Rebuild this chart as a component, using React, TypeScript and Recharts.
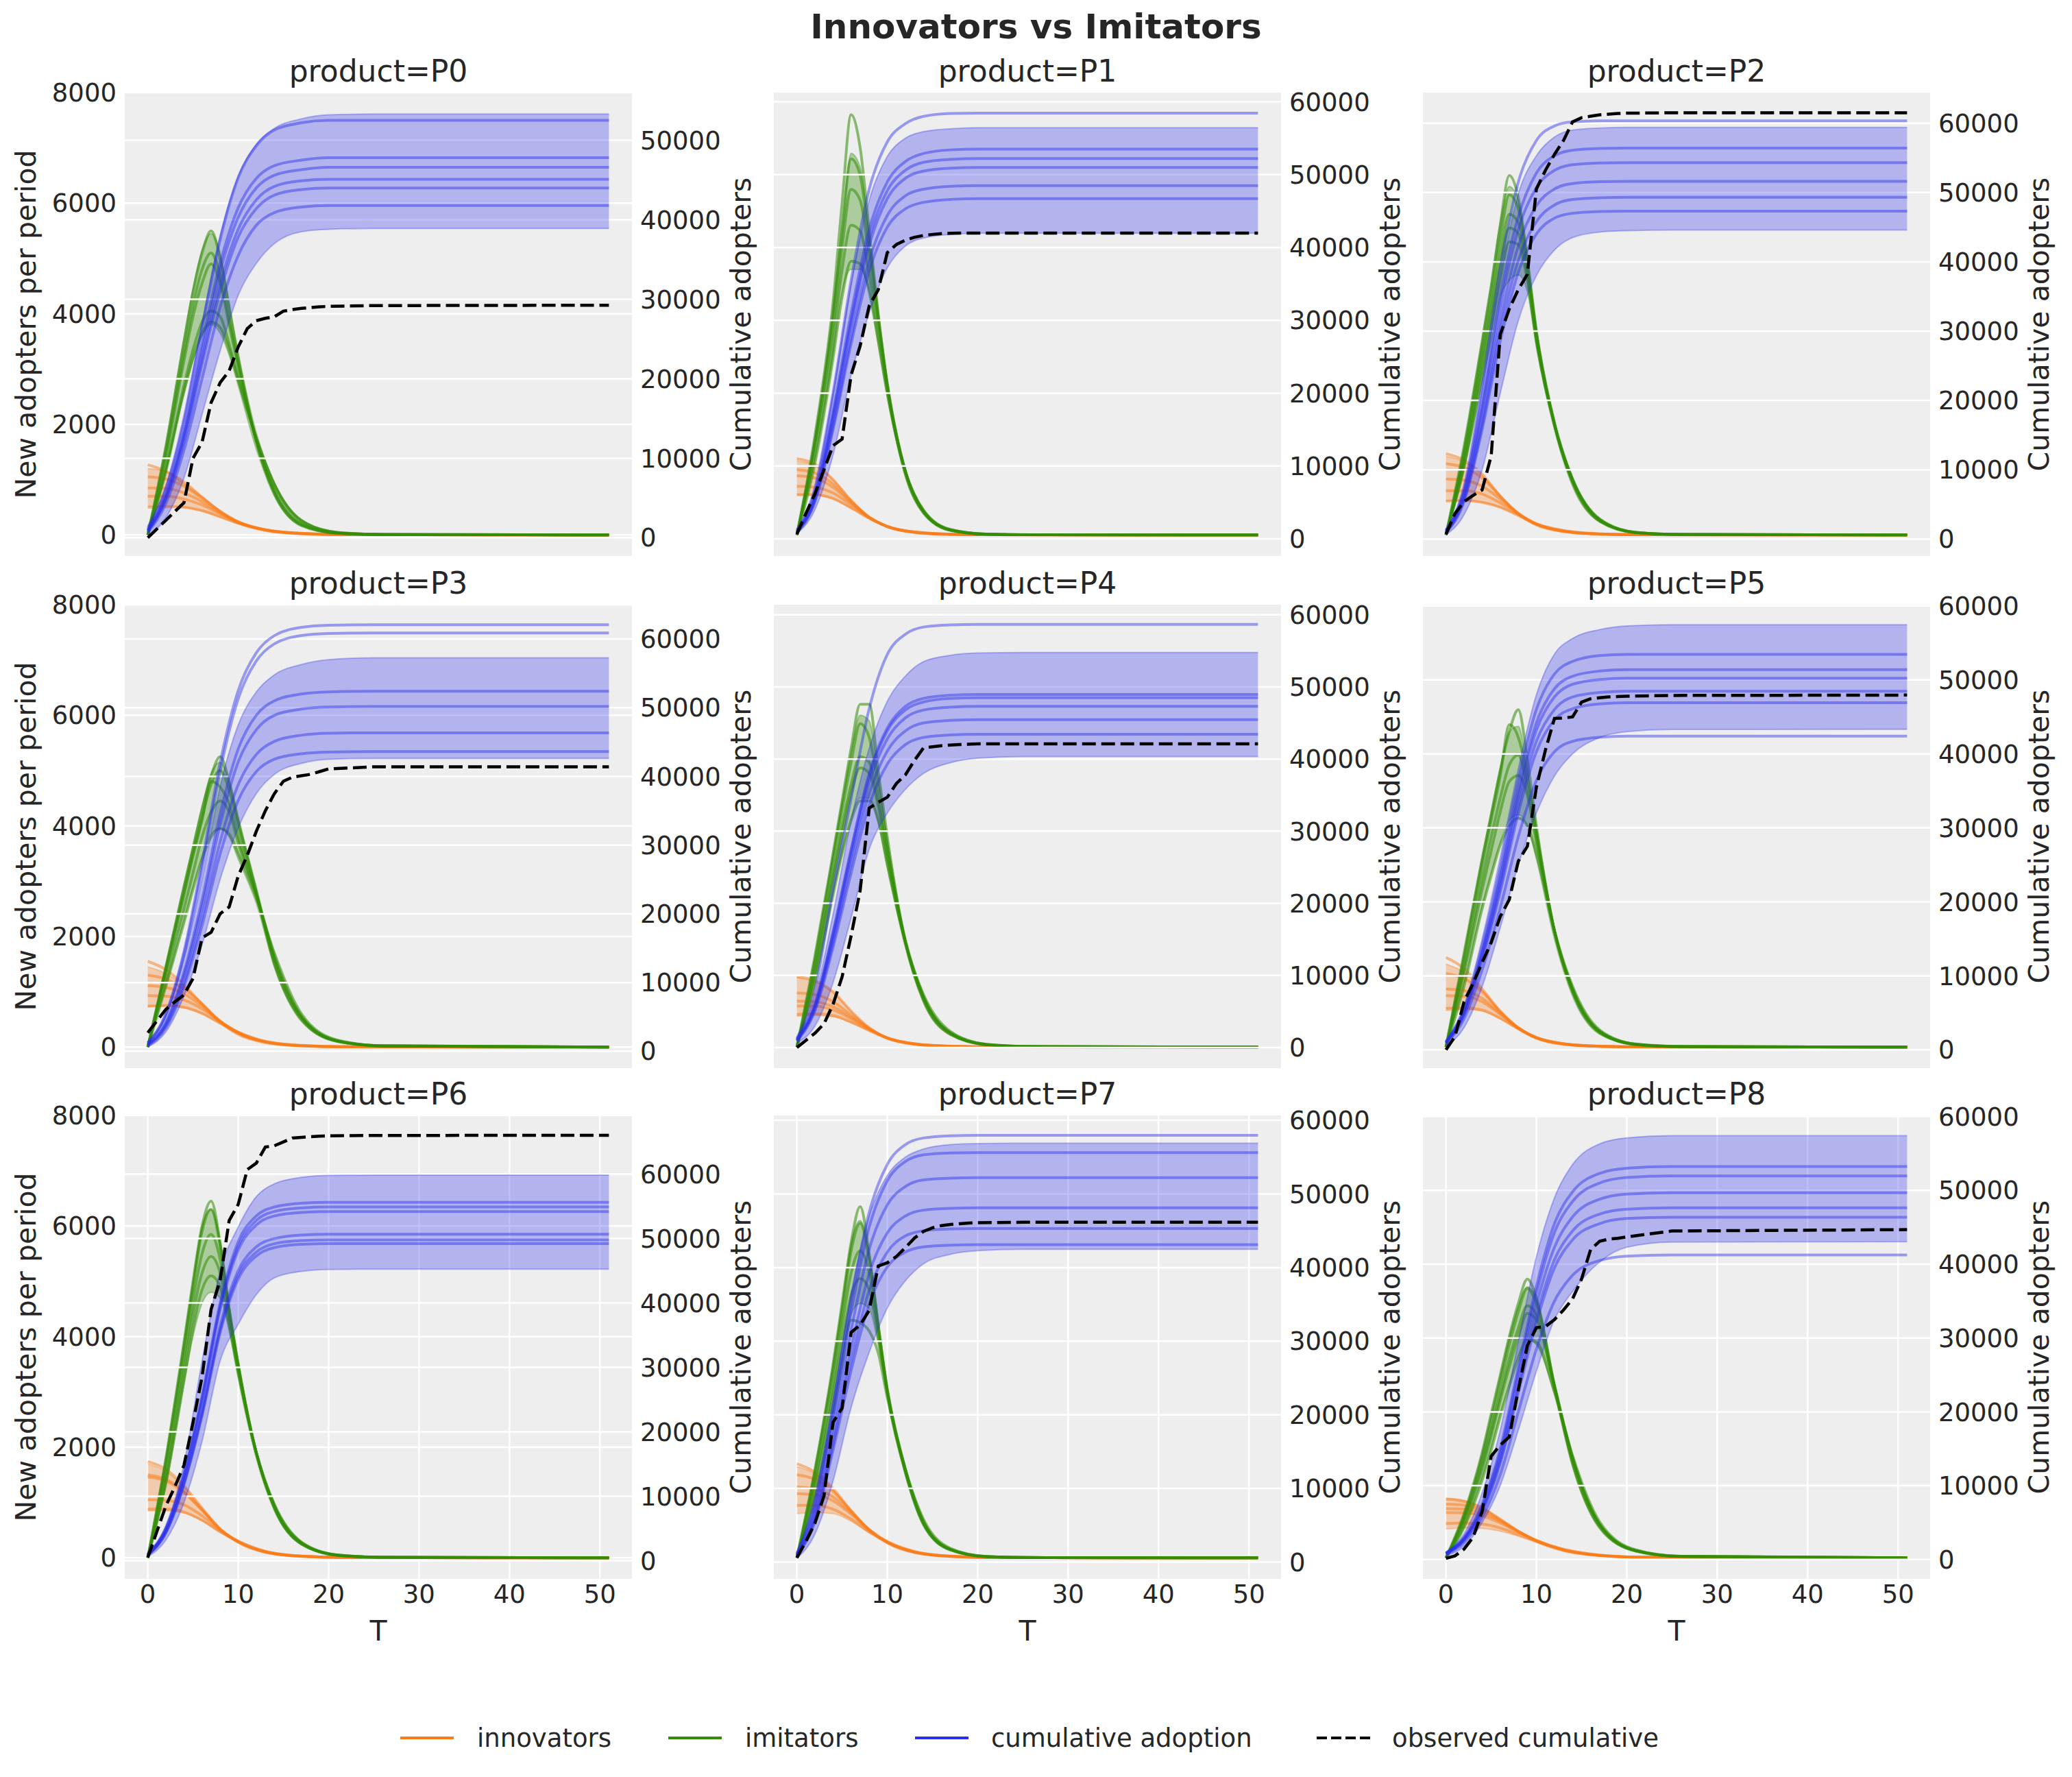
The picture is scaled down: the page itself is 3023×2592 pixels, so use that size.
import React from 'react';
import { ComposedChart, Line, Area, XAxis, YAxis, CartesianGrid } from 'recharts';

const T_INNOV = [0, 2, 4, 6, 8, 10, 13, 17, 22, 51];
const T_IMIT = [0, 2, 4, 5, 6, 7, 8, 9, 10, 12, 14, 17, 21, 26, 51];
const T_CUM = [0, 2, 4, 6, 8, 10, 12, 14, 17, 20, 25, 51];
const T_OBS = [0, 1, 2, 3, 4, 5, 6, 7, 8, 9, 10, 11, 12, 13, 14, 15, 16, 17, 18, 19, 20, 25, 51];

const PRODUCTS = ['P0', 'P1', 'P2', 'P3', 'P4', 'P5', 'P6', 'P7', 'P8'];
const X_TICKS = [0, 10, 20, 30, 40, 50];
const LEFT_TICKS = [0, 2000, 4000, 6000, 8000];
const RIGHT_DOMAINS = [
  [-2300, 56000], [-2350, 61270], [-2440, 64420],
  [-2460, 65000], [-2850, 61400], [-2475, 60170],
  [-2830, 69110], [-2280, 60660], [-2620, 60150],
];
const TICKS_50K = [0, 10000, 20000, 30000, 40000, 50000];
const TICKS_60K = [0, 10000, 20000, 30000, 40000, 50000, 60000];
const RIGHT_TICKS = [TICKS_50K, TICKS_60K, TICKS_60K, TICKS_60K, TICKS_60K, TICKS_60K, TICKS_60K, TICKS_60K, TICKS_60K];

// innovators, sample lines per product (values at T_INNOV)
const INNOV_LINES = [
  [[1270, 1150, 930, 680, 420, 220, 80, 20, 5, 0], [1050, 1010, 880, 660, 430, 240, 90, 25, 5, 0], [850, 840, 760, 600, 400, 230, 90, 25, 5, 0], [700, 700, 650, 540, 380, 230, 95, 28, 6, 0], [500, 510, 500, 440, 330, 210, 95, 30, 7, 0]],
  [[1380, 1280, 1000, 620, 320, 150, 45, 10, 2, 0], [1180, 1120, 920, 600, 320, 150, 48, 11, 2, 0], [1070, 1030, 860, 580, 320, 150, 50, 12, 2, 0], [880, 860, 760, 540, 310, 155, 52, 13, 3, 0], [730, 730, 660, 490, 300, 155, 55, 14, 3, 0]],
  [[1470, 1350, 1100, 700, 380, 180, 60, 14, 3, 0], [1290, 1220, 1030, 700, 390, 190, 65, 15, 3, 0], [1010, 990, 880, 650, 390, 200, 70, 17, 3, 0], [800, 800, 740, 580, 380, 200, 75, 18, 4, 0], [610, 620, 590, 500, 350, 200, 80, 20, 4, 0]],
  [[1550, 1400, 1120, 780, 450, 230, 80, 20, 4, 0], [1300, 1230, 1050, 780, 470, 250, 90, 23, 5, 0], [1110, 1080, 960, 740, 470, 260, 95, 25, 5, 0], [930, 920, 850, 690, 460, 270, 100, 28, 6, 0], [740, 750, 720, 610, 430, 270, 105, 30, 6, 0]],
  [[1270, 1200, 1000, 650, 350, 160, 50, 12, 2, 0], [980, 950, 820, 580, 340, 165, 55, 13, 2, 0], [830, 820, 730, 540, 330, 165, 57, 14, 3, 0], [740, 740, 670, 510, 320, 165, 58, 15, 3, 0], [590, 600, 570, 450, 300, 160, 60, 16, 3, 0]],
  [[1620, 1420, 1050, 650, 340, 160, 50, 12, 2, 0], [1330, 1240, 1000, 640, 350, 165, 55, 13, 2, 0], [1050, 1020, 880, 610, 350, 170, 58, 14, 3, 0], [930, 920, 820, 590, 345, 172, 60, 15, 3, 0], [700, 710, 670, 520, 330, 172, 62, 16, 3, 0]],
  [[1740, 1600, 1300, 900, 520, 280, 100, 25, 5, 0], [1500, 1420, 1200, 870, 520, 290, 105, 27, 5, 0], [1460, 1390, 1180, 860, 515, 290, 105, 27, 5, 0], [1050, 1040, 960, 760, 500, 300, 115, 30, 6, 0], [880, 880, 830, 680, 470, 300, 120, 32, 6, 0]],
  [[1700, 1550, 1250, 850, 500, 270, 95, 24, 5, 0], [1500, 1420, 1200, 850, 510, 280, 100, 25, 5, 0], [1280, 1250, 1100, 820, 510, 285, 105, 27, 5, 0], [1160, 1140, 1030, 790, 500, 290, 110, 28, 6, 0], [950, 950, 880, 700, 470, 290, 115, 30, 6, 0]],
  [[1060, 1020, 900, 700, 480, 300, 130, 40, 8, 0], [970, 950, 860, 680, 480, 310, 140, 42, 9, 0], [890, 880, 810, 660, 475, 315, 145, 45, 9, 0], [820, 815, 760, 630, 465, 315, 150, 47, 10, 0], [620, 630, 610, 540, 420, 300, 155, 50, 11, 0]],
];
const INNOV_BAND_HI = [
  [1200, 1150, 980, 700, 440, 250, 100, 30, 8, 0], [1340, 1250, 1000, 640, 330, 155, 50, 12, 2, 0], [1420, 1320, 1080, 710, 395, 200, 75, 18, 4, 0],
  [1450, 1330, 1100, 790, 475, 270, 100, 28, 6, 0], [1260, 1180, 990, 640, 345, 165, 58, 15, 3, 0], [1500, 1350, 1030, 650, 350, 172, 62, 16, 3, 0],
  [1700, 1560, 1280, 890, 520, 300, 118, 31, 6, 0], [1650, 1520, 1230, 850, 510, 290, 113, 29, 6, 0], [1080, 1040, 920, 700, 485, 315, 150, 48, 10, 0],
];
const INNOV_BAND_LO = [
  [520, 520, 500, 430, 320, 200, 80, 20, 4, 0], [720, 720, 650, 480, 300, 145, 45, 10, 2, 0], [620, 620, 590, 500, 350, 185, 60, 14, 3, 0],
  [730, 740, 710, 600, 425, 230, 80, 20, 4, 0], [560, 570, 550, 440, 290, 150, 48, 11, 2, 0], [660, 680, 650, 510, 320, 160, 50, 12, 2, 0],
  [850, 850, 810, 670, 460, 275, 98, 24, 5, 0], [800, 820, 800, 660, 450, 265, 95, 23, 5, 0], [520, 540, 530, 480, 390, 280, 130, 40, 8, 0],
];

// imitators, sample lines per product (values at T_IMIT)
const IMIT_LINES = [
  [[0, 1600, 3500, 4400, 5100, 5500, 5000, 4100, 3200, 1700, 750, 170, 30, 6, 0], [0, 1500, 3300, 4150, 4800, 5100, 4700, 3900, 3100, 1700, 780, 190, 32, 6, 0], [0, 1400, 3150, 3950, 4550, 4900, 4550, 3800, 3050, 1700, 800, 200, 35, 7, 0], [0, 1200, 2700, 3350, 3850, 4050, 3950, 3450, 2850, 1750, 900, 250, 45, 9, 0], [0, 1150, 2600, 3200, 3650, 3850, 3750, 3350, 2800, 1750, 920, 260, 48, 10, 0]],
  [[0, 1800, 4200, 6000, 7600, 7000, 5500, 4000, 2700, 1100, 400, 80, 12, 2, 0], [0, 1700, 4000, 5500, 6800, 6500, 5300, 3950, 2750, 1150, 420, 85, 13, 3, 0], [0, 1650, 3800, 5200, 6250, 6050, 5050, 3850, 2700, 1150, 430, 90, 14, 3, 0], [0, 1500, 3500, 4800, 5600, 5500, 4700, 3700, 2650, 1150, 440, 95, 15, 3, 0], [0, 1300, 3200, 4300, 4950, 4900, 4400, 3500, 2550, 1150, 450, 100, 16, 3, 0]],
  [[0, 1600, 3500, 4500, 5600, 6500, 6100, 5000, 3700, 2000, 950, 250, 40, 8, 0], [0, 1500, 3350, 4300, 5350, 6150, 5900, 4900, 3650, 2000, 970, 260, 42, 8, 0], [0, 1400, 3200, 4100, 5050, 5800, 5650, 4800, 3600, 2000, 990, 270, 44, 9, 0], [0, 1300, 3050, 3950, 4850, 5550, 5450, 4700, 3550, 2000, 1000, 280, 46, 9, 0], [0, 1250, 2900, 3750, 4600, 5300, 5250, 4600, 3500, 2000, 1010, 290, 48, 10, 0]],
  [[0, 1450, 2900, 3600, 4300, 4900, 5250, 4800, 4100, 2800, 1500, 500, 100, 20, 0], [0, 1400, 2800, 3500, 4150, 4750, 5000, 4650, 4000, 2800, 1550, 520, 105, 21, 0], [0, 1400, 2750, 3450, 4100, 4800, 4700, 4400, 3800, 2750, 1600, 540, 110, 22, 0], [0, 1250, 2500, 3150, 3800, 4250, 4450, 4250, 3700, 2750, 1650, 560, 115, 23, 0], [0, 1100, 2250, 2850, 3400, 3800, 3950, 3850, 3500, 2700, 1700, 600, 125, 25, 0]],
  [[0, 1650, 3500, 4450, 5400, 6200, 6200, 5000, 3800, 1900, 850, 230, 40, 8, 0], [0, 1550, 3400, 4300, 5150, 5850, 5600, 4700, 3650, 1900, 870, 240, 42, 8, 0], [0, 1400, 3150, 4000, 4750, 5250, 5150, 4450, 3500, 1900, 900, 250, 45, 9, 0], [0, 1350, 3050, 3850, 4600, 5050, 4950, 4350, 3450, 1900, 910, 260, 47, 9, 0], [0, 1200, 2750, 3500, 4100, 4450, 4450, 4100, 3300, 1900, 950, 280, 50, 10, 0]],
  [[0, 1700, 3400, 4200, 5000, 5700, 6100, 5200, 4000, 2100, 1000, 260, 45, 9, 0], [0, 1600, 3300, 4100, 4900, 5830, 5600, 4900, 3900, 2100, 1020, 270, 47, 9, 0], [0, 1450, 3050, 3800, 4500, 5100, 5280, 4700, 3800, 2100, 1040, 280, 49, 10, 0], [0, 1350, 2850, 3550, 4250, 4800, 4910, 4550, 3700, 2100, 1060, 290, 51, 10, 0], [0, 1100, 2500, 3100, 3650, 4000, 4140, 4000, 3500, 2100, 1100, 310, 55, 11, 0]],
  [[0, 1800, 3900, 5000, 6000, 6450, 5700, 4500, 3500, 1900, 900, 250, 45, 9, 0], [0, 1750, 3800, 4900, 5900, 6300, 5650, 4500, 3500, 1900, 910, 255, 46, 9, 0], [0, 1600, 3600, 4650, 5500, 5850, 5400, 4400, 3450, 1900, 930, 265, 48, 10, 0], [0, 1450, 3400, 4400, 5150, 5450, 5150, 4300, 3400, 1900, 950, 275, 50, 10, 0], [0, 1350, 3200, 4150, 4850, 5100, 4900, 4200, 3350, 1900, 970, 285, 52, 10, 0]],
  [[0, 1600, 3500, 4600, 5700, 6350, 5500, 4200, 3000, 1550, 600, 140, 20, 4, 0], [0, 1550, 3400, 4450, 5550, 6050, 5400, 4200, 3050, 1550, 620, 145, 21, 4, 0], [0, 1400, 3150, 4200, 5150, 5550, 5150, 4100, 3050, 1600, 640, 150, 22, 4, 0], [0, 1300, 2950, 3900, 4750, 5050, 4850, 4000, 3000, 1600, 660, 155, 23, 5, 0], [0, 1100, 2600, 3500, 4300, 4250, 4100, 3700, 2900, 1600, 700, 170, 25, 5, 0]],
  [[0, 800, 1900, 2600, 3300, 4000, 4600, 5040, 4700, 3100, 1700, 560, 120, 24, 0], [0, 750, 1800, 2450, 3150, 3850, 4450, 4870, 4600, 3100, 1750, 580, 125, 25, 0], [0, 700, 1700, 2300, 2950, 3600, 4150, 4560, 4400, 3100, 1800, 600, 130, 26, 0], [0, 650, 1600, 2200, 2850, 3450, 4000, 4420, 4300, 3100, 1820, 610, 135, 27, 0], [0, 550, 1400, 1950, 2550, 3100, 3600, 3950, 3900, 3000, 1850, 650, 145, 29, 0]],
];
const IMIT_BAND_HI = [
  [0, 1650, 3550, 4450, 5150, 5450, 5100, 4200, 3300, 1850, 950, 280, 50, 10, 0], [0, 1750, 4050, 5600, 6900, 6650, 5400, 4000, 2800, 1200, 450, 95, 15, 3, 0], [0, 1600, 3550, 4550, 5650, 6300, 6050, 5000, 3750, 2100, 1050, 290, 50, 10, 0],
  [0, 1500, 2950, 3650, 4350, 4950, 5150, 4800, 4150, 2900, 1650, 560, 115, 23, 0], [0, 1650, 3500, 4450, 5350, 6000, 5900, 4900, 3750, 2000, 950, 260, 45, 9, 0], [0, 1700, 3450, 4250, 5050, 5700, 5800, 5000, 3950, 2150, 1080, 290, 50, 10, 0],
  [0, 1800, 3900, 5000, 6000, 6300, 5700, 4550, 3550, 1950, 970, 280, 50, 10, 0], [0, 1600, 3500, 4600, 5700, 6100, 5500, 4300, 3100, 1650, 680, 160, 23, 5, 0], [0, 800, 1900, 2600, 3300, 4000, 4550, 4900, 4700, 3200, 1850, 630, 135, 27, 0],
];
const IMIT_BAND_LO = [
  [0, 1150, 2550, 3150, 3600, 3800, 3650, 3250, 2700, 1550, 700, 160, 25, 5, 0], [0, 1350, 3250, 4400, 4800, 4800, 4400, 3450, 2500, 1050, 380, 70, 10, 2, 0], [0, 1150, 2750, 3500, 4300, 4600, 4700, 4400, 3400, 1900, 880, 230, 35, 7, 0],
  [0, 1100, 2300, 2900, 3450, 3850, 3950, 3800, 3400, 2600, 1450, 460, 90, 18, 0], [0, 1200, 2800, 3500, 4150, 4500, 4500, 4050, 3250, 1800, 800, 210, 35, 7, 0], [0, 1150, 2550, 3150, 3700, 4100, 4200, 4000, 3400, 1950, 920, 230, 38, 8, 0],
  [0, 1300, 3150, 4000, 4600, 4800, 4700, 4100, 3250, 1800, 850, 230, 40, 8, 0], [0, 1150, 2700, 3600, 4400, 4600, 4500, 3850, 2900, 1500, 580, 130, 18, 4, 0], [0, 550, 1450, 2000, 2600, 3150, 3650, 3950, 3850, 2950, 1650, 520, 110, 22, 0],
];

// cumulative adoption, sample lines per product (values at T_CUM)
const CUM_LINES = [
  [[1200, 6200, 15000, 26500, 37500, 45300, 49300, 51300, 52200, 52500, 52500, 52500], [1000, 5500, 13500, 24500, 34500, 41500, 45200, 46800, 47500, 47800, 47800, 47800], [900, 5200, 13000, 23500, 33500, 40300, 44000, 45600, 46300, 46600, 46600, 46600], [900, 5000, 12500, 22500, 32000, 38800, 42500, 44200, 44900, 45100, 45100, 45100], [800, 4800, 12000, 21800, 31000, 37800, 41400, 43100, 43800, 44000, 44000, 44000], [700, 4300, 11000, 20000, 29000, 35500, 39300, 40900, 41600, 41800, 41800, 41800]],
  [[1200, 7000, 20000, 35500, 48000, 54500, 57000, 58000, 58400, 58450, 58450, 58450], [1100, 6000, 17500, 31000, 42500, 49000, 51800, 52900, 53400, 53500, 53500, 53500], [1000, 5800, 17000, 30000, 41300, 47800, 50600, 51700, 52100, 52200, 52200, 52200], [1000, 5600, 16500, 29300, 40300, 46700, 49500, 50500, 50900, 51000, 51000, 51000], [900, 5300, 15500, 27700, 38200, 44400, 47100, 48000, 48400, 48500, 48500, 48500], [900, 5100, 15000, 26800, 36800, 42800, 45300, 46200, 46600, 46700, 46700, 46700]],
  [[1300, 7500, 22000, 39000, 51500, 57500, 59600, 60200, 60350, 60350, 60350, 60350], [1200, 6800, 19500, 35000, 46500, 52800, 55300, 56100, 56350, 56400, 56400, 56400], [1100, 6500, 18800, 33500, 44700, 50700, 53200, 54000, 54250, 54300, 54300, 54300], [1000, 6000, 17500, 31500, 42300, 48100, 50500, 51300, 51550, 51600, 51600, 51600], [1000, 5700, 16500, 30000, 40200, 45800, 48200, 49000, 49250, 49300, 49300, 49300], [900, 5400, 15800, 28500, 38500, 44000, 46300, 47000, 47250, 47300, 47300, 47300]],
  [[1200, 5500, 14500, 27500, 42000, 52500, 58000, 60500, 61700, 62000, 62080, 62080], [1200, 5300, 14000, 26500, 40800, 51300, 56800, 59300, 60500, 60800, 60890, 60890], [1000, 4200, 11500, 22000, 34500, 44000, 48900, 51000, 52000, 52300, 52400, 52400], [1000, 4000, 11000, 21000, 33000, 42100, 46800, 48900, 49800, 50100, 50170, 50170], [900, 3700, 10000, 19500, 30500, 38800, 43200, 45100, 46000, 46300, 46350, 46350], [800, 3400, 9400, 18300, 28700, 36500, 40700, 42500, 43300, 43550, 43620, 43620]],
  [[1300, 8000, 22000, 34500, 47000, 54500, 57300, 58300, 58600, 58660, 58660, 58660], [1100, 6000, 16000, 27500, 38000, 44300, 47300, 48400, 48850, 48960, 48960, 48960], [1100, 5900, 15800, 27200, 37600, 43900, 46800, 47900, 48400, 48490, 48490, 48490], [1000, 5700, 15300, 26500, 36700, 42800, 45700, 46800, 47200, 47300, 47300, 47300], [1000, 5400, 14600, 25400, 35200, 41100, 43900, 45000, 45350, 45450, 45450, 45450], [900, 5100, 13900, 24200, 33600, 39300, 42000, 43000, 43350, 43430, 43430, 43430]],
  [[1100, 5500, 14000, 24500, 36500, 46000, 50800, 52500, 53300, 53460, 53460, 53460], [1000, 5200, 13300, 23300, 35000, 44200, 48800, 50500, 51200, 51380, 51380, 51380], [1000, 5100, 13000, 22800, 34200, 43200, 47700, 49400, 50050, 50230, 50230, 50230], [1000, 4900, 12500, 22000, 33000, 41700, 46000, 47700, 48300, 48480, 48480, 48480], [900, 4700, 12100, 21300, 32000, 40300, 44600, 46100, 46750, 46910, 46910, 46910], [800, 4200, 10800, 19200, 28800, 36400, 40300, 41700, 42250, 42400, 42400, 42400]],
  [[1000, 5000, 13500, 25500, 40000, 49500, 53500, 54900, 55500, 55630, 55630, 55630], [1000, 4900, 13300, 25200, 39500, 48800, 52800, 54200, 54750, 54900, 54900, 54900], [1000, 4800, 13100, 24800, 39000, 48200, 52100, 53500, 54050, 54180, 54180, 54180], [900, 4500, 12200, 23200, 36500, 45000, 48700, 50000, 50550, 50670, 50670, 50670], [900, 4400, 12000, 22800, 35800, 44300, 47900, 49200, 49700, 49800, 49800, 49800], [900, 4300, 11800, 22500, 35400, 43700, 47300, 48600, 49100, 49210, 49210, 49210]],
  [[1200, 8000, 21000, 35500, 47500, 54000, 56700, 57600, 57900, 57970, 57970, 57970], [1100, 7500, 20000, 34000, 45500, 51800, 54400, 55300, 55570, 55620, 55620, 55620], [1000, 6800, 18500, 31500, 42500, 48500, 51000, 51900, 52150, 52200, 52200, 52200], [1000, 6200, 17000, 29000, 39200, 44700, 47000, 47800, 48050, 48110, 48110, 48110], [900, 5800, 16000, 27300, 36900, 42100, 44300, 45000, 45250, 45300, 45300, 45300], [900, 5500, 15200, 26000, 35100, 40100, 42100, 42800, 43050, 43110, 43110, 43110]],
  [[900, 3000, 7500, 15000, 26000, 37000, 45500, 49800, 52300, 53000, 53230, 53230], [900, 2900, 7200, 14500, 25300, 36000, 44300, 48500, 51000, 51750, 51960, 51960], [800, 2800, 6900, 13900, 24200, 34500, 42300, 46400, 48800, 49500, 49670, 49670], [800, 2700, 6600, 13300, 23200, 33000, 40600, 44500, 46800, 47450, 47630, 47630], [800, 2600, 6400, 13000, 22600, 32100, 39500, 43300, 45500, 46200, 46360, 46360], [700, 2300, 5700, 11500, 20000, 28500, 35000, 38500, 40500, 41100, 41260, 41260]],
];
const CUM_BAND_HI = [
  [1500, 6500, 15000, 27000, 38000, 45500, 49500, 51500, 52700, 53200, 53300, 53300], [1300, 7000, 20000, 35000, 46500, 52500, 55000, 55900, 56300, 56450, 56450, 56450], [1400, 7500, 21500, 37500, 49800, 55300, 58000, 59000, 59300, 59400, 59400, 59400],
  [1300, 5200, 13500, 25000, 38500, 47500, 52300, 54800, 56300, 57000, 57270, 57270], [1400, 7000, 18500, 31500, 41500, 48000, 51500, 53500, 54400, 54700, 54780, 54780], [1300, 6000, 15000, 26000, 38000, 48000, 53500, 55600, 56800, 57300, 57465, 57465],
  [1200, 5500, 15000, 31000, 45000, 51800, 56500, 58500, 59500, 59800, 59840, 59840], [1300, 9000, 22000, 36500, 47000, 52500, 55000, 56100, 56700, 56850, 56900, 56900], [1000, 3500, 9000, 17500, 29500, 41000, 49000, 53500, 56300, 57100, 57400, 57410],
];
const CUM_BAND_LO = [
  [300, 2500, 7500, 15500, 23500, 30500, 34500, 37000, 38500, 38800, 38900, 38900], [700, 4000, 11500, 22500, 31000, 37200, 40200, 41300, 41800, 41950, 41950, 41950], [600, 3500, 10000, 21000, 31500, 38000, 41700, 43500, 44300, 44500, 44600, 44600],
  [600, 2800, 8000, 15500, 25000, 32500, 37500, 40300, 41900, 42500, 42630, 42630], [600, 3000, 9000, 18000, 27500, 32500, 35800, 38000, 39500, 40100, 40350, 40350], [500, 3000, 8500, 16500, 25000, 32000, 37000, 40000, 42200, 43000, 43300, 43320],
  [600, 3200, 9000, 18500, 31000, 36700, 41300, 43900, 44900, 45200, 45240, 45240], [500, 3800, 11000, 21000, 28500, 34500, 38200, 40500, 41800, 42300, 42490, 42490], [500, 1800, 5000, 10000, 17500, 25500, 32500, 36300, 40300, 42300, 43000, 43050],
];

// observed cumulative (values at T_OBS)
const OBSERVED = [
  [0, 1100, 2200, 3300, 4400, 10000, 12000, 17000, 19500, 21000, 24000, 26300, 27300, 27600, 27800, 28500, 28700, 28850, 28950, 29050, 29100, 29200, 29250],
  [650, 3500, 6200, 9500, 12800, 13700, 22500, 26500, 32000, 34200, 39300, 40400, 41000, 41400, 41650, 41800, 41900, 41950, 41970, 41970, 41970, 41970, 41970],
  [700, 3700, 5400, 6300, 7100, 12000, 29500, 33200, 36000, 38200, 50500, 53200, 55500, 57500, 60200, 60800, 61000, 61200, 61300, 61400, 61450, 61500, 61500],
  [2700, 4400, 6100, 7200, 8200, 10600, 16500, 17300, 20000, 21000, 25500, 28500, 32000, 35000, 37500, 39300, 39900, 40100, 40300, 40700, 41100, 41400, 41400],
  [0, 1000, 2000, 3300, 6000, 9800, 15500, 21800, 33200, 34000, 34700, 36600, 37800, 39800, 41550, 41700, 41850, 41950, 42000, 42050, 42100, 42100, 42100],
  [0, 1800, 6500, 9000, 11800, 14500, 18000, 20300, 25500, 27500, 35500, 40500, 44800, 44850, 45000, 47000, 47450, 47600, 47700, 47750, 47800, 47900, 47950],
  [500, 4500, 8500, 11500, 14800, 21400, 28500, 39000, 43500, 52800, 55300, 60700, 61700, 64200, 64400, 65000, 65600, 65700, 65800, 65900, 65950, 66000, 66030],
  [600, 2800, 5300, 9000, 19000, 20900, 31200, 32200, 34200, 40200, 40650, 41500, 42700, 44000, 44900, 45400, 45700, 45850, 45950, 46050, 46100, 46150, 46170],
  [150, 500, 1400, 3000, 6500, 14000, 15500, 16600, 23000, 29000, 31400, 31550, 32500, 33800, 35300, 38000, 42000, 43100, 43400, 43500, 43700, 44500, 44680],
];

// ---- styling / layout ----
const FONT = "'DejaVu Sans', sans-serif";
const TEXT = '#262626';
const C_INNOV = '#fa7c17';
const C_IMIT = '#328c06';
const C_CUM = '#2a2eec';

const PLOT_LEFT = [182, 1129, 2076];
const PLOT_TOP = [135, 882, 1627];
const PLOT_W = 740;
const PLOT_H = 676;
const AXIS_L = 170;
const AXIS_R = 230;
const PAD_T = 40;
const XAXIS_H = 140;
const CHART_W = AXIS_L + PLOT_W + AXIS_R;
const CHART_H = PAD_T + PLOT_H + XAXIS_H;
const X_DOMAIN = [-2.55, 53.55];
const LEFT_DOMAIN = [-381, 8000];

const tickStyle = { fill: TEXT, fontSize: 37, fontFamily: FONT };

const toRows = (ts: number[], vs: number[]) => ts.map((t, i) => ({ t, v: vs[i] }));
const toBand = (ts: number[], lo: number[], hi: number[]) => ts.map((t, i) => ({ t, band: [lo[i], hi[i]] }));

const LEGEND = [
  { label: 'innovators', color: C_INNOV, dash: undefined, x: 584, tx: 696 },
  { label: 'imitators', color: C_IMIT, dash: undefined, x: 975, tx: 1087 },
  { label: 'cumulative adoption', color: C_CUM, dash: undefined, x: 1335, tx: 1446 },
  { label: 'observed cumulative', color: '#000000', dash: '15 6', x: 1921, tx: 2031 },
];

const Panel: React.FC<{ idx: number }> = ({ idx }) => {
  const row = Math.floor(idx / 3);
  const col = idx % 3;
  const pl = PLOT_LEFT[col];
  const pt = PLOT_TOP[row];
  const boxStyle: React.CSSProperties = { position: 'absolute', left: pl - AXIS_L, top: pt - PAD_T };
  const isBottom = row === 2;

  return (
    <>
      {/* primary axes: new adopters per period */}
      <div style={boxStyle}>
        <ComposedChart width={CHART_W} height={CHART_H} margin={{ top: PAD_T, right: AXIS_R, bottom: 0, left: 0 }}>
          <CartesianGrid yAxisId="l" fill="#eeeeee" fillOpacity={1} stroke="#ffffff" strokeWidth={2.5}
            horizontalValues={LEFT_TICKS} verticalValues={X_TICKS} />
          <XAxis type="number" dataKey="t" domain={X_DOMAIN} ticks={X_TICKS} allowDataOverflow interval={0}
            height={XAXIS_H} axisLine={false} tickLine={false} tickSize={0} tickMargin={9}
            tick={isBottom ? tickStyle : false} />
          <YAxis yAxisId="l" type="number" domain={LEFT_DOMAIN} ticks={LEFT_TICKS} allowDataOverflow interval={0}
            width={AXIS_L} axisLine={false} tickLine={false} tickSize={0} tickMargin={12}
            tick={col === 0 ? tickStyle : false} />
          <Area yAxisId="l" data={toBand(T_INNOV, INNOV_BAND_LO[idx], INNOV_BAND_HI[idx])} dataKey="band" type="monotone"
            fill={C_INNOV} fillOpacity={0.3} stroke={C_INNOV} strokeOpacity={0.3} strokeWidth={2}
            dot={false} activeDot={false} isAnimationActive={false} />
          {INNOV_LINES[idx].map((vs, i) => (
            <Line key={`o${i}`} yAxisId="l" data={toRows(T_INNOV, vs)} dataKey="v" type="monotone"
              stroke={C_INNOV} strokeOpacity={0.5} strokeWidth={4} dot={false} activeDot={false} isAnimationActive={false} />
          ))}
          <Area yAxisId="l" data={toBand(T_IMIT, IMIT_BAND_LO[idx], IMIT_BAND_HI[idx])} dataKey="band" type="monotone"
            fill={C_IMIT} fillOpacity={0.35} stroke={C_IMIT} strokeOpacity={0.35} strokeWidth={2}
            dot={false} activeDot={false} isAnimationActive={false} />
          {IMIT_LINES[idx].map((vs, i) => (
            <Line key={`g${i}`} yAxisId="l" data={toRows(T_IMIT, vs)} dataKey="v" type="monotone"
              stroke={C_IMIT} strokeOpacity={0.55} strokeWidth={4} dot={false} activeDot={false} isAnimationActive={false} />
          ))}
        </ComposedChart>
      </div>

      {/* twin axes: cumulative adopters */}
      <div style={boxStyle}>
        <ComposedChart width={CHART_W} height={CHART_H} margin={{ top: PAD_T, right: 0, bottom: XAXIS_H, left: AXIS_L }}>
          <CartesianGrid yAxisId="r" vertical={false} stroke="#ffffff" strokeWidth={2.5}
            horizontalValues={RIGHT_TICKS[idx]} />
          <XAxis hide type="number" dataKey="t" domain={X_DOMAIN} allowDataOverflow />
          <YAxis yAxisId="r" orientation="right" type="number" domain={RIGHT_DOMAINS[idx]} ticks={RIGHT_TICKS[idx]}
            allowDataOverflow interval={0} width={AXIS_R} axisLine={false} tickLine={false} tickSize={0} tickMargin={12}
            tick={tickStyle} />
          <Area yAxisId="r" data={toBand(T_CUM, CUM_BAND_LO[idx], CUM_BAND_HI[idx])} dataKey="band" type="monotone"
            fill={C_CUM} fillOpacity={0.3} stroke={C_CUM} strokeOpacity={0.3} strokeWidth={2}
            dot={false} activeDot={false} isAnimationActive={false} />
          {CUM_LINES[idx].map((vs, i) => (
            <Line key={`b${i}`} yAxisId="r" data={toRows(T_CUM, vs)} dataKey="v" type="monotone"
              stroke={C_CUM} strokeOpacity={0.45} strokeWidth={4} dot={false} activeDot={false} isAnimationActive={false} />
          ))}
          <Line yAxisId="r" data={toRows(T_OBS, OBSERVED[idx])} dataKey="v" type="linear"
            stroke="#000000" strokeWidth={4.5} strokeDasharray="20 8" dot={false} activeDot={false} isAnimationActive={false} />
        </ComposedChart>
      </div>

      <div style={{ position: 'absolute', left: pl, width: PLOT_W, top: pt - 31, transform: 'translateY(-50%)',
        textAlign: 'center', fontSize: 44, lineHeight: 1 }}>
        product={PRODUCTS[idx]}
      </div>
      {col === 0 && (
        <div style={{ position: 'absolute', left: 38, top: pt + PLOT_H / 2, transform: 'translate(-50%, -50%) rotate(-90deg)',
          whiteSpace: 'nowrap', fontSize: 41, lineHeight: 1 }}>
          New adopters per period
        </div>
      )}
      <div style={{ position: 'absolute', left: pl + PLOT_W + 159, top: pt + PLOT_H / 2, transform: 'translate(-50%, -50%) rotate(-90deg)',
        whiteSpace: 'nowrap', fontSize: 41, lineHeight: 1 }}>
        Cumulative adopters
      </div>
      {isBottom && (
        <div style={{ position: 'absolute', left: pl + PLOT_W / 2, top: pt + PLOT_H + 76, transform: 'translate(-50%, -50%)',
          fontSize: 41, lineHeight: 1 }}>
          T
        </div>
      )}
    </>
  );
};

export default function App() {
  return (
    <div style={{ position: 'absolute', left: 0, top: 0, width: 3023, height: 2592, background: '#ffffff',
      fontFamily: FONT, color: TEXT, overflow: 'hidden' }}>
      <div style={{ position: 'absolute', left: 0, width: 3023, top: 39, transform: 'translateY(-50%)', textAlign: 'center',
        fontSize: 50, fontWeight: 'bold', lineHeight: 1 }}>
        Innovators vs Imitators
      </div>
      {PRODUCTS.map((p, i) => <Panel key={p} idx={i} />)}
      {LEGEND.map((item) => (
        <React.Fragment key={item.label}>
          <svg style={{ position: 'absolute', left: item.x, top: 2535 - 6 }} width={80} height={12}>
            <line x1={0} y1={6} x2={78} y2={6} stroke={item.color} strokeWidth={4} strokeDasharray={item.dash} />
          </svg>
          <div style={{ position: 'absolute', left: item.tx, top: 2535, transform: 'translateY(-50%)', fontSize: 37,
            lineHeight: 1, whiteSpace: 'nowrap' }}>
            {item.label}
          </div>
        </React.Fragment>
      ))}
    </div>
  );
}
